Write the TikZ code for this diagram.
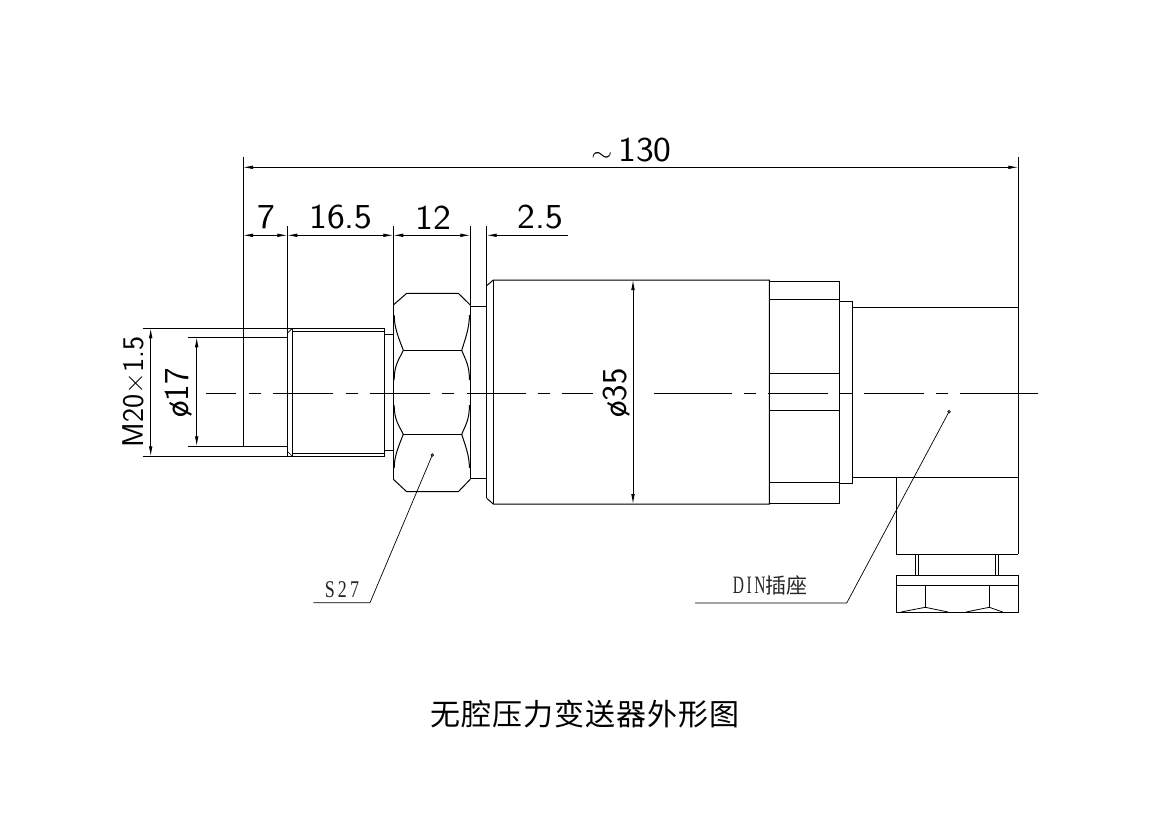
\documentclass[tikz,border=0pt]{standalone}
\usepackage{fontspec}
\usepackage{graphicx}
\usetikzlibrary{arrows.meta}
\newfontfamily\cjkfont{Noto Sans CJK SC}
\newfontfamily\titlefont[LetterSpace=3]{Noto Sans CJK SC}
\newfontfamily\notefont{Liberation Serif}
\newcommand{\dimfont}{\sffamily\fontsize{35}{35}\selectfont}
\newcommand{\widedim}[1]{\scalebox{1.08}[1]{#1}}
\begin{document}
\begin{tikzpicture}[x=1pt,y=-1pt,line width=1pt,>={Latex[length=10pt,width=3.6pt]}]
\tikzstyle{dimline}=[<->,line width=.8pt]
\tikzstyle{extline}=[line width=.8pt]
\tikzstyle{leader}=[line width=.7pt]
\tikzstyle{dimtext}=[inner sep=0pt,font=\dimfont]
\tikzstyle{notetext}=[inner sep=0pt,text=black!85]
\useasboundingbox (0,0) rectangle (1169,827);
% extension lines
\draw[extline] (243,157) -- (243,446.3);
\draw[extline] (1018.3,157) -- (1018.3,554.3);
\draw[extline] (287.3,226) -- (287.3,456.3);
\draw[extline] (393.3,226) -- (393.3,479.3);
\draw[extline] (470.3,226) -- (470.3,479.3);
\draw[extline] (486.7,226) -- (486.7,498.3);
\draw[extline] (143,328.3) -- (384.7,328.3);
\draw[extline] (143,456.3) -- (384.7,456.3);
\draw[extline] (188,337.3) -- (287.3,337.3);
\draw[extline] (188,446.3) -- (287.3,446.3);
% threaded end
\draw (292.3,328.3) -- (292.3,456.3) (384.7,328.3) -- (384.7,456.3);
\draw (292.3,331.3) -- (384.7,331.3) (292.3,453.3) -- (384.7,453.3);
\draw[line width=.7pt] (287.3,333.3) -- (292.3,328.3) (287.3,451.3) -- (292.3,456.3);
\draw (384.7,334.3) -- (393.3,334.3) (384.7,450.3) -- (393.3,450.3);
% hex nut
\draw (393.3,305) -- (406.7,293.3) -- (458.3,293.3) -- (470.3,305);
\draw (393.3,479.3) -- (406.7,491.7) -- (458.3,491.7) -- (470.3,479.3);
\draw (403.3,350.3) -- (461.7,350.3) (403.3,434.3) -- (461.7,434.3);
\foreach \xa/\xb in {394.2/403.3,469.4/461.7}{
  \draw (\xa,315) .. controls (\xa,328) and ({(\xa+\xb)/2},338) .. (\xb,350.3);
  \draw (\xb,350.3) .. controls ({(\xa+\xb)/2},360) and (\xa,365) .. (\xa,380);
  \draw (\xa,405) .. controls (\xa,420) and ({(\xa+\xb)/2},425) .. (\xb,434.3);
  \draw (\xb,434.3) .. controls ({(\xa+\xb)/2},446) and (\xa,456) .. (\xa,468);
}
% flange and body
\draw (470.3,306.3) -- (486.7,306.3) (470.3,478.3) -- (486.7,478.3);
\draw (486.7,285.7) -- (493.3,280) -- (769.3,280) -- (769.3,504) -- (493.3,504) -- (486.7,498.3);
\draw (493.3,280) -- (493.3,504);
% collar
\draw (769.3,281.3) rectangle (839.3,503.3);
\foreach \ya in {299.3,373.3,410.3,482.3}{
  \draw (769.3,\ya) -- (839.3,\ya);
}
\draw (839.3,301) rectangle (852.7,483.7);
% DIN socket
\draw (852.7,307.3) -- (1018.3,307.3) (852.7,477.3) -- (1018.3,477.3);
\draw (896.3,477.3) -- (896.3,554.3) -- (1018.3,554.3);
\foreach \xa in {915.7,918.7,995.7,998.7}{
  \draw[line width=.8pt] (\xa,554.3) -- (\xa,575.3);
}
\draw (896.3,575.3) rectangle (1018.3,612.3);
\draw (896.3,585.3) -- (1018.3,585.3);
\draw[line width=.8pt] (925.3,585.3) -- (925.3,607.3) (989.3,585.3) -- (989.3,607.3);
\draw[line width=.8pt] (901,612) -- (925.3,607.3) -- (948,612) (966,612) -- (989.3,607.3) -- (1002.7,612);
% centre line
\foreach \xa/\xb in {206/236,249.3/261.3,273.3/332.7,346/358.3,370/430,442/454,466.7/526,538/550,562/593.3,654/732,744/756,768/828,840/852,864/924,936/948,960/1038}{
  \draw[line width=.8pt] (\xa,393) -- (\xb,393);
}
% dimensions
\draw[dimline] (243,167.3) -- (1018.3,167.3);
\draw[dimline] (243,235.3) -- (287.3,235.3);
\draw[dimline] (287.3,235.3) -- (393.3,235.3);
\draw[dimline] (393.3,235.3) -- (470.3,235.3);
\draw[dimline,<-] (486.7,235.3) -- (568,235.3);
\draw[dimline] (150.7,328.3) -- (150.7,456.3);
\draw[dimline] (196.7,337.3) -- (196.7,446.3);
\draw[dimline] (633,280) -- (633,504);
\node[dimtext] (len) at (631.5,150) {\widedim{\(\sim\)\,130}};
\node[dimtext] (seg1) at (266,217.5) {\widedim{7}};
\node[dimtext] (seg2) at (341,217.5) {\widedim{16.5}};
\node[dimtext] (seg3) at (433,217.5) {\widedim{12}};
\node[dimtext] (seg4) at (540.5,217.5) {\widedim{2.5}};
\node[dimtext,rotate=90,font=\sffamily\fontsize{30}{30}\selectfont] (thread) at (133,392) {M20×1.5};
\node[dimtext,rotate=90] (bore) at (179,393) {ø17};
\node[dimtext,rotate=90] (dia) at (617,393) {ø35};
% leaders
\draw[leader] (432.3,455) circle (1.3);
\draw[leader] (432.3,455) -- (370,602.7) -- (313.3,602.7);
\draw[leader] (949,411.7) circle (1.3);
\draw[leader] (949,411.7) -- (846.7,603) -- (695,603);
\node[notetext] (hexnote) at (342,590) {\notefont\fontsize{24}{24}\selectfont\scalebox{.75}[1]{S\,2\,7}};
\node[notetext,anchor=east] (dinnote) at (808,585) {\notefont\fontsize{25}{25}\selectfont\scalebox{.62}[1]{D\,I\,N}\cjkfont\fontsize{21}{21}\selectfont 插座};
\node[notetext,text=black] (title) at (585,714) {\titlefont\fontsize{30}{30}\selectfont 无腔压力变送器外形图};
\end{tikzpicture}
\end{document}
